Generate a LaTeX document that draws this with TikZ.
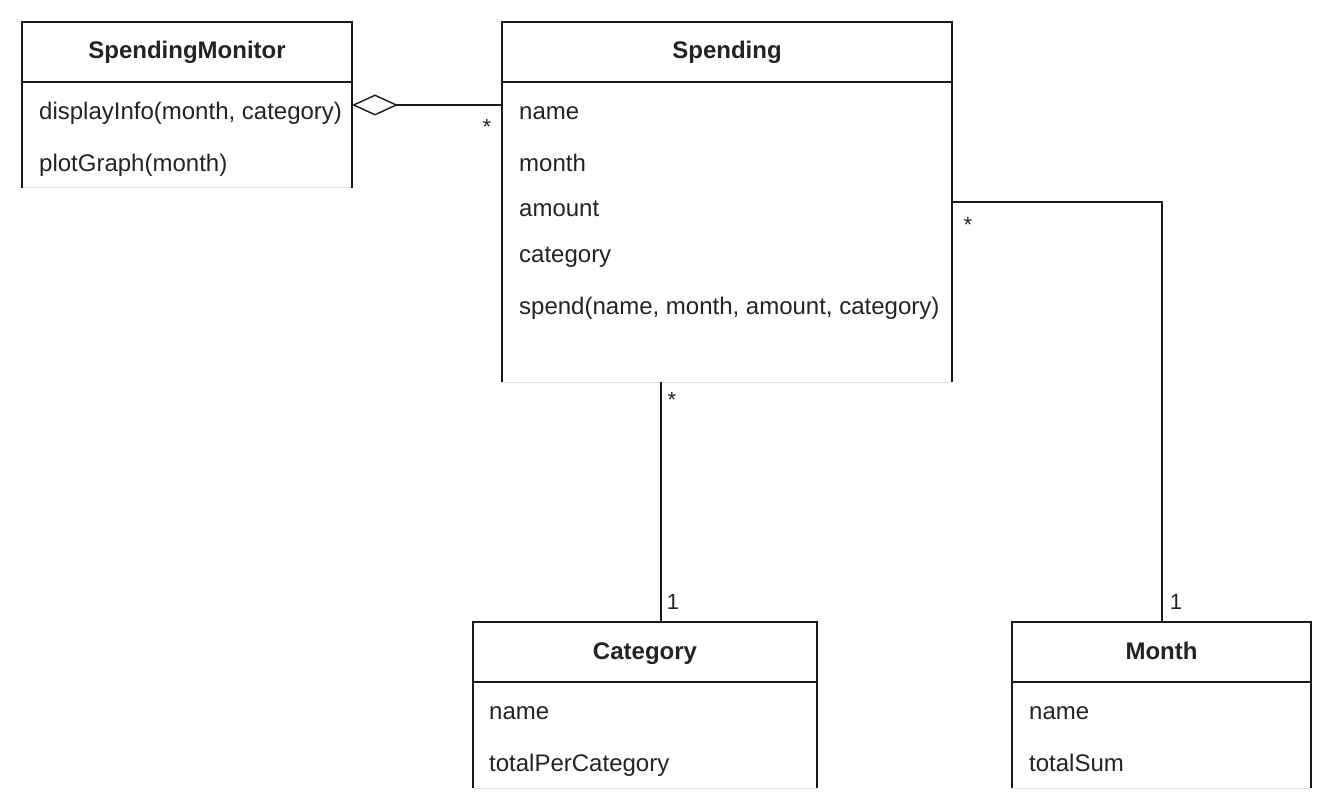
\documentclass[tikz,border=0pt]{standalone}
\usepackage{fontspec}
\setmainfont{Liberation Sans}
\usetikzlibrary{arrows.meta}
\definecolor{txt}{HTML}{222326}
\definecolor{edge}{HTML}{1A1A1A}
\definecolor{openedge}{HTML}{E2E2E2}
\begin{document}
\begin{tikzpicture}[x=1pt,y=-1pt,
  classbox/.style={inner sep=0pt,outer sep=0pt},
  edgeline/.style={draw=edge,line width=1.4pt},
  title/.style={font=\fontsize{24}{28}\selectfont\bfseries,text=txt,anchor=base,inner sep=0pt},
  member/.style={font=\fontsize{24}{28}\selectfont,text=txt,anchor=base west,inner sep=0pt},
  mult/.style={font=\fontsize{22}{26}\selectfont,text=txt,inner sep=0pt},
  agg/.style={edgeline,-{Diamond[open,length=46pt,width=21pt,line width=1.4pt]}}
]
\useasboundingbox (0,0) rectangle (1335,810);
\fill[white] (0,0) rectangle (1335,810);

% boxes
\node[classbox,minimum width=330pt,minimum height=166pt] (sm) at (187,105) {};
\node[classbox,minimum width=450pt,minimum height=360pt] (sp) at (727,202) {};
\node[classbox,minimum width=344pt,minimum height=166pt] (cat) at (645,705) {};
\node[classbox,minimum width=299pt,minimum height=166pt] (mon) at (1161.5,705) {};

\foreach \b in {sm,sp,cat,mon}{
  \draw[openedge,line width=1pt] (\b.south west) -- (\b.south east);
  \draw[edgeline] (\b.south west) -- (\b.north west) -- (\b.north east) -- (\b.south east);
  \draw[edgeline] ([yshift=-60pt]\b.north west) -- ([yshift=-60pt]\b.north east);
}

% titles
\node[title] (smT) at (187,59) {SpendingMonitor};
\node[title] (spT) at (727,59) {Spending};
\node[title] (catT) at (645,659) {Category};
\node[title] (monT) at (1161.5,659) {Month};

% members
\node[member] (sm1) at (39,120) {displayInfo(month, category)};
\node[member] (sm2) at (39,172) {plotGraph(month)};
\node[member] (sp1) at (519,120) {name};
\node[member] (sp2) at (519,172) {month};
\node[member] (sp3) at (519,217) {amount};
\node[member] (sp4) at (519,262) {category};
\node[member] (sp5) at (519,314.5) {spend(name, month, amount, category)};
\node[member] (cat1) at (489,719.5) {name};
\node[member] (cat2) at (489,771.5) {totalPerCategory};
\node[member] (mon1) at (1029,719.5) {name};
\node[member] (mon2) at (1029,771.5) {totalSum};

% connectors
\coordinate (aggY) at (0,105);
\coordinate (catX) at (661,0);
\coordinate (monBend) at (1162,202);
\draw[agg] (sp.west |- aggY) -- (sm.east |- aggY);
\draw[edgeline] (sp.south -| catX) -- (cat.north -| catX);
\draw[edgeline] (sp.east |- monBend) -- (monBend) -- (mon.north -| monBend);

% multiplicities
\node[mult] (m1) at (487,127) {*};
\node[mult] (m2) at (672,400) {*};
\node[mult] (m3) at (968,225) {*};
\node[mult] (m4) at (673,602) {1};
\node[mult] (m5) at (1176,602) {1};
\end{tikzpicture}
\end{document}
